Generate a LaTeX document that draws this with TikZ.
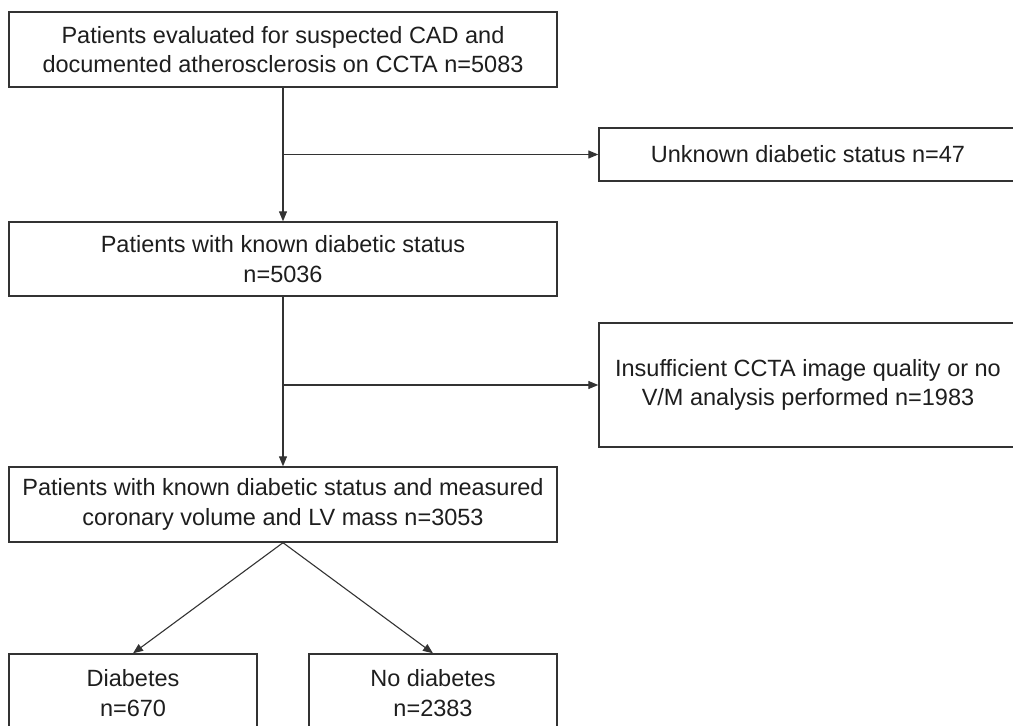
\documentclass[tikz,border=0pt]{standalone}
\usepackage{fontspec}
\setmainfont{Liberation Sans}
\usetikzlibrary{arrows.meta}
\definecolor{linec}{HTML}{333333}
\definecolor{textc}{HTML}{1E1E1E}
\begin{document}
\begin{tikzpicture}[x=1pt,y=-1pt,
  box/.style={draw=linec, line width=1.4pt, rectangle, inner sep=0pt, align=center,
    text=textc, font=\fontsize{23.5}{29.5}\selectfont},
  arr/.style={draw=linec, line width=1.1pt, -{Triangle[length=10pt,width=8pt]}}]
\useasboundingbox (0,0) rectangle (1013,726);
\clip (0,0) rectangle (1013,726);
\fill[white] (0,0) rectangle (1013,726);
\node[box, minimum width=548pt, minimum height=75pt] (b1) at (283,49.5)
  {Patients evaluated for suspected CAD and\\documented atherosclerosis on CCTA n=5083};
\node[box, minimum width=418pt, minimum height=53pt] (b2) at (808,154.5)
  {Unknown diabetic status n=47};
\node[box, minimum width=548pt, minimum height=74pt] (b3) at (283,259)
  {Patients with known diabetic status\\n=5036};
\node[box, minimum width=418pt, minimum height=124pt] (b4) at (808,385)
  {Insufficient CCTA image quality or no\\V/M analysis performed n=1983};
\node[box, minimum width=548pt, minimum height=75pt] (b5) at (283,504.5)
  {Patients with known diabetic status and measured\\coronary volume and LV mass n=3053};
\node[box, minimum width=248pt, minimum height=78pt] (b6) at (133,693)
  {Diabetes\\n=670};
\node[box, minimum width=248pt, minimum height=78pt] (b7) at (433,693)
  {No diabetes\\n=2383};
\coordinate (j1) at (b1.south |- b2.west);
\coordinate (j2) at (b3.south |- b4.west);
\draw[arr] (b1.south) -- (b3.north);
\draw[arr] (j1) -- (b2.west);
\draw[arr] (b3.south) -- (b5.north);
\draw[arr] (j2) -- (b4.west);
\draw[arr] (b5.south) -- (b6.north);
\draw[arr] (b5.south) -- (b7.north);
\end{tikzpicture}
\end{document}
